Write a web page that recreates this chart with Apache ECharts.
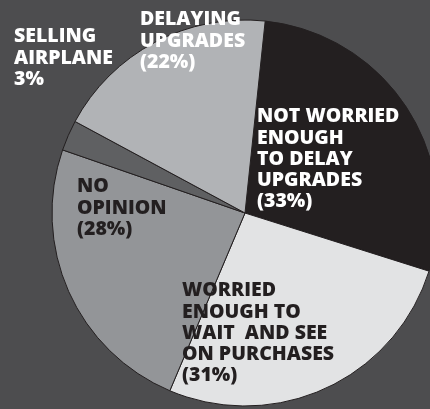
<!DOCTYPE html>
<html>
<head>
<meta charset="utf-8">
<script src="https://cdn.jsdelivr.net/npm/echarts@6/dist/echarts.min.js"></script>
<style>
  html, body { margin: 0; padding: 0; background: #4d4d4f; }
  #chart { width: 430px; height: 409px; }
</style>
</head>
<body>
<div id="chart"></div>
<script>
// Survey answers, clockwise from the top
const categories = [
  'NOT WORRIED\nENOUGH\nTO DELAY\nUPGRADES',
  'WORRIED\nENOUGH TO\nWAIT  AND SEE\nON PURCHASES',
  'NO\nOPINION',
  'SELLING\nAIRPLANE',
  'DELAYING\nUPGRADES'
];
const shares = [33, 31, 28, 3, 22];
const shareInParens = [true, true, true, false, true];

// Styling
const sliceColors = ['#231f20', '#e2e3e4', '#939598', '#5f6062', '#b1b3b6'];
const labelColors = ['#ffffff', '#231f20', '#231f20', '#ffffff', '#ffffff'];
// Top-left corner of each label block, in pixels
const labelAnchors = [[257, 106], [182, 280], [77, 176], [14, 26], [140, 9]];

const chart = echarts.init(document.getElementById('chart'), null, { renderer: 'canvas' });

const data = categories.map((name, i) => ({
  name: name,
  value: shares[i],
  itemStyle: { color: sliceColors[i] },
  label: { color: labelColors[i] }
}));

chart.setOption({
  backgroundColor: '#4d4d4f',
  animation: false,
  series: [{
    type: 'pie',
    center: [245, 213],
    radius: 193,
    startAngle: 84,
    clockwise: true,
    avoidLabelOverlap: false,
    itemStyle: { borderColor: '#231f20', borderWidth: 1 },
    emphasis: { disabled: true },
    labelLine: { show: false },
    label: {
      show: true,
      position: 'inside',
      fontFamily: '"Open Sans", sans-serif',
      fontWeight: 800,
      fontSize: 19.5,
      lineHeight: 21.3,
      align: 'left',
      formatter: p => {
        const pct = shareInParens[p.dataIndex] ? '(' + p.value + '%)' : p.value + '%';
        return p.name + '\n' + pct;
      }
    },
    labelLayout: p => ({
      x: labelAnchors[p.dataIndex][0],
      y: labelAnchors[p.dataIndex][1],
      align: 'left',
      verticalAlign: 'top'
    }),
    data: data
  }]
});
</script>
</body>
</html>
